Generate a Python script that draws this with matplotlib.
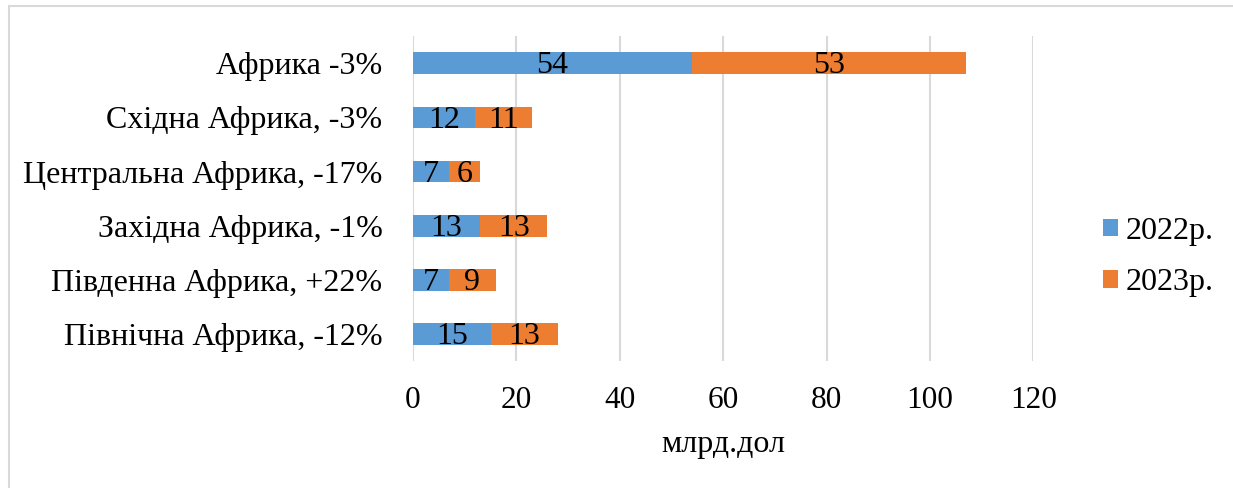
import matplotlib
matplotlib.use("Agg")
import matplotlib.pyplot as plt
from matplotlib.patches import Rectangle

# data (top to bottom as shown)
regions = ['Африка -3%', 'Східна Африка, -3%', 'Центральна Африка, -17%',
           'Західна Африка, -1%', 'Південна Африка, +22%', 'Північна Африка, -12%']
v2022 = [54, 12, 7, 13, 7, 15]
v2023 = [53, 11, 6, 13, 9, 13]
series_names = ['2022р.', '2023р.']
xticks = [0, 20, 40, 60, 80, 100, 120]

blue = '#5B9BD5'
orange = '#ED7D31'

plt.rcParams['font.family'] = ['Liberation Serif', 'DejaVu Serif']

fig = plt.figure(figsize=(12.33, 4.88), dpi=100)
ax = fig.add_axes([0.335, 0.260, 0.503, 0.666])

ypos = list(range(len(regions)))[::-1]
b1 = ax.barh(ypos, v2022, height=0.4, color=blue, label=series_names[0], zorder=3)
b2 = ax.barh(ypos, v2023, left=v2022, height=0.4, color=orange, label=series_names[1], zorder=3)

# value labels, centred in each segment (slightly low, as in the original)
for bars in (b1, b2):
    for b in bars:
        ax.annotate(str(int(b.get_width())),
                    (b.get_x() + b.get_width() / 2, b.get_y() + b.get_height() / 2),
                    xytext=(0, -2), textcoords='offset points',
                    ha='center', va='center', fontsize=23, zorder=4)

ax.set_xlim(0, 120)
ax.set_ylim(-0.5, 5.5)
ax.set_xticks(xticks)
ax.set_xticklabels([str(t) for t in xticks], fontsize=22.5)
ax.set_yticks(ypos)
ax.set_yticklabels(regions, fontsize=23)
ax.tick_params(axis='both', length=0)
ax.tick_params(axis='x', pad=18)
ax.tick_params(axis='y', pad=22)
ax.xaxis.grid(True, color='#D9D9D9', linewidth=1.5, zorder=0)
for s in ax.spines.values():
    s.set_visible(False)
ax.set_xlabel('млрд.дол', fontsize=23, labelpad=11)

ax.legend(loc='center left', bbox_to_anchor=(1.113, 0.32), frameon=False,
          fontsize=23, handlelength=0.47, handleheight=0.47, handletextpad=0.22,
          labelspacing=0.7, borderpad=0, borderaxespad=0)

# outer frame
fig.patches.append(Rectangle((9 / 1233, -0.1), 1.2, 1 - 6 / 488 + 0.1,
                             transform=fig.transFigure, fill=False,
                             edgecolor='#D9D9D9', linewidth=1.5))

fig.savefig('out.png', dpi=100)
